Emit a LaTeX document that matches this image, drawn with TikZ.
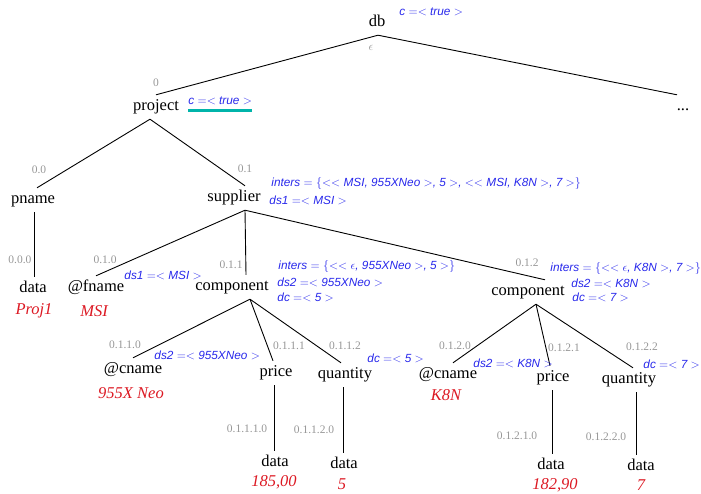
\documentclass[tikz,border=0pt]{standalone}
\usepackage{fontspec}
\setmainfont{Liberation Serif}
\newfontfamily\annfont{Liberation Sans}
\usetikzlibrary{positioning}

\definecolor{valred}{RGB}{220,25,35}
\definecolor{annblue}{RGB}{40,40,235}
\definecolor{posgray}{RGB}{150,150,150}
\definecolor{markteal}{RGB}{0,180,170}

\tikzset{
  elem/.style={font=\fontsize{16.5}{18}\selectfont, text height=11pt, text depth=3.5pt, inner sep=4.5pt},
  val/.style={font=\fontsize{16.5}{18}\selectfont\itshape, text=valred, inner sep=0pt},
  posnum/.style={font=\fontsize{11.5}{13}\selectfont, text=posgray, inner sep=0pt},
  ann/.style={font=\annfont\itshape\fontsize{11.8}{13}\selectfont, text=annblue, inner sep=0pt, anchor=west},
}

\begin{document}
\begin{tikzpicture}[x=1pt, y=-1pt, line width=0.9pt]
      \useasboundingbox (0,0) rectangle (701,493);

      % element nodes
      \node[elem] (db) at (377,23) {db};
      \node[elem] (dots) at (683,107) {...};
      \node[elem] (project) at (156,107) {project};
      \node[elem] (pname) at (33,200) {pname};
      \node[elem] (supplier) at (234,198) {supplier};
      \node[elem] (data0) at (33,289) {data};
      \node[elem] (fname) at (96,288) {@fname};
      \node[elem] (comp1) at (232,287) {component};
      \node[elem] (comp2) at (528,292) {component};
      \node[elem] (cname1) at (133,370) {@cname};
      \node[elem] (price1) at (276,373) {price};
      \node[elem] (qty1) at (345,375) {quantity};
      \node[elem] (data11) at (275,463) {data};
      \node[elem] (data12) at (344,465) {data};
      \node[elem] (cname2) at (448,375) {@cname};
      \node[elem] (price2) at (553,378) {price};
      \node[elem] (qty2) at (629,380) {quantity};
      \node[elem] (data21) at (551,466) {data};
      \node[elem] (data22) at (641,467) {data};

      % tree edges: parent/shift/child/shift
      \foreach \a/\sa/\b/\sb in {db/1/project/0, db/1/dots/-6, project/-6/pname/4, project/-6/supplier/11,
                                 pname/1/data0/1,
                                 supplier/11/fname/0, supplier/11/comp1/14, supplier/11/comp2/17,
                                 comp1/18/cname1/0, comp1/18/price1/-3, comp1/18/qty1/-4,
                                 price1/-2/data11/-1, qty1/-2/data12/-1,
                                 comp2/8/cname2/5, comp2/8/price2/-3, comp2/8/qty2/4,
                                 price2/-1/data21/1, qty2/7/data22/-5}
        \draw ([xshift=\sa pt]\a.south) -- ([xshift=\sb pt]\b.north);

      % values
      \node[val] (vproj) at (34,311) {Proj1};
      \node[val] (vmsi) at (94,311) {MSI};
      \node[val] (vcname1) at (131,393) {955X Neo};
      \node[val] (vprice1) at (274,482) {185,00};
      \node[val] (vqty1) at (342,484) {5};
      \node[val] (vcname2) at (446,395) {K8N};
      \node[val] (vprice2) at (555,485) {182,90};
      \node[val] (vqty2) at (641,485) {7};

      % positions
      \node[posnum] (peps) at (371,48) {$\epsilon$};
      \node[posnum] (p0) at (156,83) {0};
      \node[posnum] (p00) at (39,170) {0.0};
      \node[posnum] (p01) at (245,169) {0.1};
      \node[posnum] (p000) at (20,260) {0.0.0};
      \node[posnum] (p010) at (105,260) {0.1.0};
      \node[posnum] (p011) at (231,265) {0.1.1};
      \node[posnum] (p012) at (527,263) {0.1.2};
      \node[posnum] (p0110) at (125,345) {0.1.1.0};
      \node[posnum] (p0111) at (289,346) {0.1.1.1};
      \node[posnum] (p0112) at (345,346) {0.1.1.2};
      \node[posnum] (p0120) at (455,346) {0.1.2.0};
      \node[posnum] (p0121) at (564,348) {0.1.2.1};
      \node[posnum] (p0122) at (642,347) {0.1.2.2};
      \node[posnum] (p01110) at (247,429) {0.1.1.1.0};
      \node[posnum] (p01120) at (314,430) {0.1.1.2.0};
      \node[posnum] (p01210) at (517,436) {0.1.2.1.0};
      \node[posnum] (p01220) at (606,437) {0.1.2.2.0};

      % annotations
      \node[ann] (adb) at (399,12) {c $=<$ true $>$};
      \node[ann] (aproj) at (188,101) {c $=<$ true $>$};
      \draw[markteal, line width=3pt] ([yshift=-5pt]aproj.south west) -- ([yshift=-5pt]aproj.south east);
      \node[ann] (asup1) at (271,183) {inters $=\{<<$ MSI, 955XNeo $>$, 5 $>$, $<<$ MSI, K8N $>$, 7 $>\}$};
      \node[ann] (asup2) at (269,200) {ds1 $=<$ MSI $>$};
      \node[ann] (afname) at (124,275) {ds1 $=<$ MSI $>$};
      \node[ann] (acomp11) at (278,266) {inters $=\{<<\epsilon$, 955XNeo $>$, 5 $>\}$};
      \node[ann] (acomp12) at (277,282) {ds2 $=<$ 955XNeo $>$};
      \node[ann] (acomp13) at (277,297) {dc $=<$ 5 $>$};
      \node[ann] (acomp21) at (550,268) {inters $=\{<<\epsilon$, K8N $>$, 7 $>\}$};
      \node[ann] (acomp22) at (571,283) {ds2 $=<$ K8N $>$};
      \node[ann] (acomp23) at (572,297) {dc $=<$ 7 $>$};
      \node[ann] (acname1) at (154,355) {ds2 $=<$ 955XNeo $>$};
      \node[ann] (aqty1) at (367,358) {dc $=<$ 5 $>$};
      \node[ann] (acname2) at (473,363) {ds2 $=<$ K8N $>$};
      \node[ann] (aqty2) at (643,364) {dc $=<$ 7 $>$};

    \end{tikzpicture}
\end{document}
